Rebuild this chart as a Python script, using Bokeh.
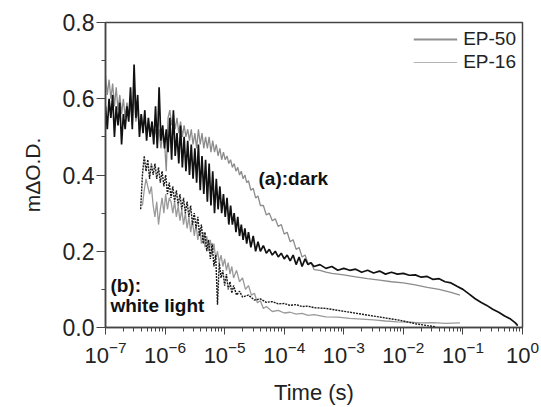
from bokeh.plotting import figure
from bokeh.models import Range1d, FixedTicker, LogTicker, Legend, LegendItem, Label, ColumnDataSource, PrintfTickFormatter
from bokeh.embed import file_html
from bokeh.resources import INLINE
import numpy as np

# ---------------- data (log10 of time in s, signal in mΔO.D.) ----------------
dark_ep50_logt = [-7.00,-6.97,-6.94,-6.91,-6.88,-6.85,-6.82,-6.79,-6.76,-6.73,-6.70,-6.67,-6.64,-6.61,-6.58,-6.55,-6.52,-6.49,-6.46,-6.43,
                  -6.40,-6.37,-6.34,-6.31,-6.28,-6.25,-6.22,-6.19,-6.16,-6.13,-6.10,-6.07,-6.04,-6.01,-5.98,-5.95,-5.92,-5.89,-5.86,-5.83,
                  -5.80,-5.77,-5.74,-5.71,-5.68,-5.65,-5.62,-5.59,-5.56,-5.53,-5.50,-5.47,-5.44,-5.41,-5.38,-5.35,-5.32,-5.29,-5.26,-5.23,
                  -5.20,-5.17,-5.14,-5.11,-5.08,-5.05,-5.02,-4.99,-4.96,-4.93,-4.90,-4.87,-4.84,-4.81,-4.78,-4.75,-4.72,-4.69,-4.66,-4.63,
                  -4.60,-4.56,-4.52,-4.48,-4.44,-4.40,-4.35,-4.30,-4.25,-4.20,-4.15,-4.10,-4.05,-4.00,-3.95,-3.90,-3.85,-3.80,-3.75,-3.70,
                  -3.65,-3.60,-3.55,-3.50,-3.40,-3.30,-3.20,-3.10,-3.00,-2.90,-2.80,-2.70,-2.60,-2.50,-2.40,-2.30,-2.20,-2.10,-2.00,-1.90,
                  -1.80,-1.70,-1.60,-1.50,-1.40,-1.30,-1.20,-1.10,-1.00,-0.90,-0.80,-0.70,-0.60,-0.50,-0.40,-0.30,-0.20,-0.12,-0.08]
dark_ep50_val = [0.58,0.52,0.60,0.55,0.61,0.50,0.58,0.53,0.59,0.48,0.56,0.52,0.58,0.54,0.63,0.52,0.69,0.55,0.61,0.50,
                 0.56,0.51,0.57,0.49,0.55,0.50,0.54,0.48,0.58,0.47,0.63,0.49,0.53,0.47,0.52,0.46,0.55,0.44,0.57,0.45,
                 0.51,0.43,0.53,0.42,0.50,0.41,0.49,0.40,0.48,0.39,0.47,0.38,0.48,0.36,0.45,0.35,0.44,0.33,0.43,0.32,
                 0.41,0.30,0.39,0.31,0.37,0.30,0.35,0.29,0.34,0.27,0.32,0.27,0.30,0.25,0.29,0.24,0.27,0.23,0.26,0.22,
                 0.25,0.21,0.24,0.20,0.225,0.20,0.215,0.195,0.205,0.19,0.20,0.185,0.195,0.18,0.19,0.175,0.19,0.165,0.185,0.16,
                 0.18,0.165,0.17,0.16,0.165,0.155,0.16,0.15,0.155,0.15,0.153,0.145,0.15,0.143,0.148,0.14,0.145,0.14,0.142,0.137,
                 0.138,0.132,0.134,0.126,0.128,0.12,0.117,0.108,0.10,0.088,0.076,0.066,0.058,0.048,0.040,0.030,0.022,0.012,0.005]

dark_ep16_logt = [-7.00,-6.97,-6.94,-6.91,-6.88,-6.85,-6.82,-6.79,-6.76,-6.73,-6.70,-6.67,-6.64,-6.61,-6.58,-6.55,-6.52,-6.49,-6.46,-6.43,
                  -6.40,-6.37,-6.34,-6.31,-6.28,-6.25,-6.22,-6.19,-6.16,-6.13,-6.10,-6.07,-6.04,-6.01,-5.98,-5.95,-5.92,-5.89,-5.86,-5.83,
                  -5.80,-5.77,-5.74,-5.71,-5.68,-5.65,-5.62,-5.59,-5.56,-5.53,-5.50,-5.47,-5.44,-5.41,-5.38,-5.35,-5.32,-5.29,-5.26,-5.23,
                  -5.20,-5.17,-5.14,-5.11,-5.08,-5.05,-5.02,-4.99,-4.96,-4.93,-4.90,-4.87,-4.84,-4.81,-4.78,-4.75,-4.72,-4.69,-4.66,-4.63,
                  -4.60,-4.56,-4.52,-4.48,-4.44,-4.40,-4.35,-4.30,-4.25,-4.20,-4.15,-4.10,-4.05,-4.00,-3.95,-3.90,-3.85,-3.80,-3.75,-3.70,
                  -3.65,-3.60,-3.55,-3.50,-3.40,-3.30,-3.20,-3.10,-3.00,-2.80,-2.60,-2.40,-2.20,-2.00,-1.80,-1.60,-1.40,-1.20,-1.05]
dark_ep16_val = [0.66,0.61,0.65,0.60,0.64,0.58,0.63,0.57,0.61,0.56,0.60,0.55,0.59,0.56,0.58,0.53,0.62,0.54,0.57,0.53,
                 0.56,0.52,0.55,0.51,0.54,0.50,0.54,0.50,0.52,0.48,0.52,0.47,0.51,0.49,0.41,0.55,0.57,0.53,0.56,0.52,
                 0.55,0.51,0.54,0.50,0.53,0.50,0.52,0.49,0.52,0.48,0.51,0.47,0.52,0.48,0.51,0.47,0.50,0.47,0.50,0.46,
                 0.49,0.46,0.48,0.45,0.47,0.44,0.46,0.44,0.45,0.43,0.44,0.42,0.43,0.41,0.42,0.40,0.41,0.39,0.40,0.38,
                 0.385,0.36,0.365,0.34,0.345,0.32,0.32,0.295,0.30,0.28,0.285,0.265,0.27,0.245,0.25,0.225,0.23,0.205,0.21,0.185,
                 0.19,0.168,0.17,0.152,0.15,0.145,0.142,0.14,0.138,0.133,0.128,0.124,0.12,0.117,0.112,0.105,0.10,0.092,0.085]

white_ep50_logt = [-6.41,-6.38,-6.35,-6.32,-6.29,-6.26,-6.23,-6.20,-6.17,-6.14,-6.11,-6.08,-6.05,-6.02,-5.99,-5.96,-5.93,-5.90,-5.87,-5.84,
                   -5.81,-5.78,-5.75,-5.72,-5.69,-5.66,-5.63,-5.60,-5.57,-5.54,-5.51,-5.48,-5.45,-5.42,-5.39,-5.36,-5.33,-5.30,-5.27,-5.24,
                   -5.21,-5.18,-5.15,-5.12,-5.09,-5.06,-5.03,-5.00,-4.97,-4.94,-4.91,-4.88,-4.85,-4.80,-4.75,-4.70,-4.60,-4.50,-4.40,-4.30,
                   -4.20,-4.10,-4.00,-3.90,-3.80,-3.70,-3.60,-3.50,-3.30,-3.10,-2.90,-2.70,-2.50,-2.30,-2.10,-2.00,-1.80,-1.60,-1.45]
white_ep50_val = [0.31,0.40,0.45,0.41,0.44,0.39,0.43,0.40,0.43,0.39,0.42,0.38,0.41,0.37,0.40,0.35,0.38,0.34,0.37,0.33,
                  0.36,0.32,0.35,0.31,0.34,0.30,0.33,0.29,0.32,0.27,0.30,0.26,0.29,0.24,0.27,0.22,0.25,0.20,0.23,0.18,
                  0.22,0.16,0.19,0.06,0.17,0.13,0.15,0.11,0.14,0.10,0.12,0.09,0.11,0.085,0.095,0.08,0.085,0.072,0.075,0.066,
                  0.068,0.062,0.063,0.058,0.06,0.055,0.056,0.052,0.05,0.045,0.04,0.035,0.03,0.025,0.02,0.017,0.01,0.005,0.002]

white_ep16_logt = [-6.38,-6.35,-6.32,-6.29,-6.26,-6.23,-6.20,-6.17,-6.14,-6.11,-6.08,-6.05,-6.02,-5.99,-5.96,-5.93,
                   -5.90,-5.87,-5.84,-5.81,-5.78,-5.75,-5.72,-5.69,-5.66,-5.63,-5.60,-5.57,-5.54,-5.51,-5.48,-5.45,-5.42,-5.39,-5.36,-5.33,
                   -5.30,-5.27,-5.24,-5.21,-5.18,-5.15,-5.12,-5.09,-5.06,-5.03,-5.00,-4.97,-4.94,-4.91,-4.88,-4.85,-4.80,-4.75,-4.70,-4.65,
                   -4.60,-4.55,-4.50,-4.45,-4.40,-4.35,-4.30,-4.20,-4.10,-4.00,-3.90,-3.80,-3.70,-3.60,-3.50,-3.30,-3.10,-2.90,-2.70,-2.50,
                   -2.30,-2.10,-1.90,-1.70,-1.50,-1.30,-1.05]
white_ep16_val = [0.32,0.36,0.39,0.37,0.35,0.37,0.32,0.29,0.33,0.27,0.31,0.34,0.30,0.35,0.31,0.34,
                  0.33,0.30,0.33,0.29,0.32,0.28,0.31,0.27,0.30,0.26,0.29,0.25,0.28,0.24,0.27,0.23,0.26,0.22,0.25,0.21,
                  0.24,0.20,0.23,0.19,0.22,0.18,0.20,0.17,0.19,0.16,0.18,0.15,0.17,0.14,0.16,0.13,0.15,0.12,0.13,0.10,
                  0.11,0.085,0.09,0.065,0.07,0.05,0.055,0.042,0.045,0.038,0.04,0.035,0.037,0.032,0.034,0.028,0.027,0.024,0.022,0.02,
                  0.017,0.015,0.014,0.012,0.013,0.011,0.012]

y_ticks = [0.0, 0.2, 0.4, 0.6, 0.8]
y_minor = [0.1, 0.3, 0.5, 0.7]
legend_labels = ["EP-50", "EP-16"]

FONT = "Liberation Sans"

p = figure(width=541, height=407, x_axis_type="log", output_backend="svg", toolbar_location=None,
           x_range=Range1d(1e-7, 1.0), y_range=Range1d(0.0, 0.8),
           min_border_left=105, min_border_right=19, min_border_top=22, min_border_bottom=77)
p.xgrid.visible = False
p.ygrid.visible = False
p.outline_line_color = "#444444"
p.outline_line_width = 1.5
p.background_fill_color = "white"
p.border_fill_color = "white"

def curve(logt, val, **kw):
    src = ColumnDataSource(dict(t=10.0 ** np.array(logt), v=val))
    return p.line("t", "v", source=src, **kw)

curve(dark_ep16_logt, dark_ep16_val, line_color="#8c8c8c", line_width=1.3)
curve(white_ep16_logt, white_ep16_val, line_color="#9a9a9a", line_width=1.3)
curve(dark_ep50_logt, dark_ep50_val, line_color="#111111", line_width=1.7)
curve(white_ep50_logt, white_ep50_val, line_color="#1a1a1a", line_width=1.4, line_dash="2 1")

# legend swatches (as drawn in the figure legend; no visible data)
leg50 = p.line(x=[np.nan], y=[np.nan], line_color="#8f8f8f", line_width=1.8)
leg16 = p.line(x=[np.nan], y=[np.nan], line_color="#b4b4b4", line_width=1.0)
legend = Legend(items=[LegendItem(label=legend_labels[0], renderers=[leg50]),
                       LegendItem(label=legend_labels[1], renderers=[leg16])],
                location="top_right", margin=6, padding=6, spacing=1,
                glyph_width=44, glyph_height=22, label_height=22, label_standoff=6,
                label_text_font=FONT, label_text_font_size="19px", label_text_color="#222222",
                border_line_color=None, background_fill_alpha=0)
p.add_layout(legend)

# axes
xa = p.xaxis[0]
xa.ticker = LogTicker(num_minor_ticks=10)
xa.axis_label = "Time (s)"
xa.axis_label_text_font = FONT
xa.axis_label_text_font_size = "22px"
xa.axis_label_text_font_style = "normal"
xa.axis_label_text_color = "#222222"
xa.axis_label_standoff = 14
xa.major_label_text_font = FONT
xa.major_label_text_font_size = "22px"
xa.major_label_text_color = "#222222"
xa.major_label_standoff = 6
xa.axis_line_color = "#444444"
xa.axis_line_width = 1.5
xa.major_tick_line_color = "#444444"
xa.minor_tick_line_color = "#444444"
xa.major_tick_in = 0
xa.major_tick_out = 7
xa.minor_tick_in = 0
xa.minor_tick_out = 4

ya = p.yaxis[0]
ya.ticker = FixedTicker(ticks=y_ticks, minor_ticks=y_minor)
ya.formatter = PrintfTickFormatter(format="%.1f")
ya.axis_label = "mΔO.D."
ya.axis_label_text_font = FONT
ya.axis_label_text_font_size = "21px"
ya.axis_label_text_font_style = "normal"
ya.axis_label_text_color = "#222222"
ya.axis_label_standoff = 16
ya.major_label_text_font = FONT
ya.major_label_text_font_size = "23px"
ya.major_label_text_color = "#222222"
ya.major_label_standoff = 2
ya.axis_line_color = "#444444"
ya.axis_line_width = 1.5
ya.major_tick_line_color = "#444444"
ya.minor_tick_line_color = "#444444"
ya.major_tick_in = 0
ya.major_tick_out = 9
ya.minor_tick_in = 0
ya.minor_tick_out = 4

# annotations
p.add_layout(Label(x=3.7e-5, y=0.39, text="(a):dark", text_font=FONT, text_font_size="19px",
                   text_font_style="bold", text_color="#111111", text_baseline="middle"))
p.add_layout(Label(x=1.21e-7, y=0.109, text="(b):", text_font=FONT, text_font_size="19px",
                   text_font_style="bold", text_color="#111111", text_baseline="middle"))
p.add_layout(Label(x=1.21e-7, y=0.057, text="white light", text_font=FONT, text_font_size="19px",
                   text_font_style="bold", text_color="#111111", text_baseline="middle"))

open("out.html", "w").write(file_html(p, INLINE))
